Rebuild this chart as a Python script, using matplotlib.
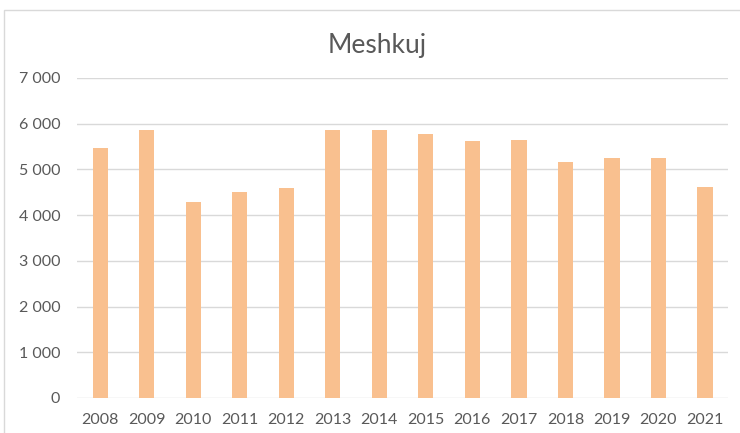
import matplotlib.pyplot as plt
import numpy as np
from matplotlib.patches import Rectangle
from matplotlib.ticker import FuncFormatter

years = ['2008', '2009', '2010', '2011', '2012', '2013', '2014',
         '2015', '2016', '2017', '2018', '2019', '2020', '2021']
values = [5472, 5870, 4283, 4500, 4587, 5870, 5870,
          5776, 5623, 5652, 5167, 5254, 5254, 4623]
yticks = [0, 1000, 2000, 3000, 4000, 5000, 6000, 7000]

plt.rcParams['font.family'] = ['Lato', 'DejaVu Sans']

fig = plt.figure(figsize=(7.4, 4.33), dpi=100)
ax = fig.add_axes([0.104, 0.081, 0.880, 0.739])

x = np.arange(len(years))
ax.bar(x, values, width=0.33, color='#F9C08F', zorder=3)

ax.set_ylim(0, 7000)
ax.set_xlim(-0.5, len(years) - 0.5)
ax.set_yticks(yticks)
ax.yaxis.set_major_formatter(FuncFormatter(lambda v, p: f'{int(v):,}'.replace(',', ' ')))
ax.set_xticks(x)
ax.set_xticklabels(years)
ax.grid(axis='y', color='#d9d9d9', linewidth=1, zorder=0)
for s in ax.spines.values():
    s.set_visible(False)
ax.tick_params(length=0, colors='#595959', labelsize=11.5)
ax.tick_params(axis='x', pad=11)
ax.tick_params(axis='y', pad=12)

fig.text(0.51, 0.896, 'Meshkuj', ha='center', va='center', fontsize=19, color='#595959')

# chart border
fig.add_artist(Rectangle((0.006, -0.05), 1.1, 1.027, transform=fig.transFigure,
                         fill=False, edgecolor='#d9d9d9', linewidth=1))

fig.savefig('out.png', dpi=100)
